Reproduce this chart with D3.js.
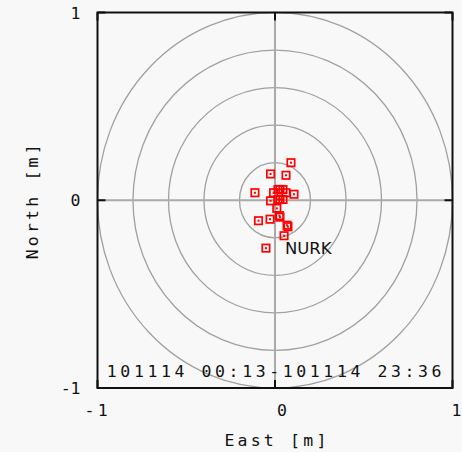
<!DOCTYPE html>
<html><head><meta charset="utf-8">
<script src="https://cdn.jsdelivr.net/npm/d3@7"></script>
<style>
html,body{margin:0;padding:0;background:#f8f8f8;}
svg{display:block;}
text{font-family:"DejaVu Sans Mono",monospace;fill:#111;}
</style></head><body>
<script>
// Data (metres)
const eastValues  = [0.090,-0.025,0.062,-0.113,-0.008,0.028,0.062,0.107,-0.025,0.028,0.017,0.045,0.017,0.045,0.010,0.028,-0.093,-0.028,0.025,0.073,0.068,0.051,-0.051];
const northValues = [0.200, 0.140,0.133, 0.040, 0.040,0.058,0.040,0.032,-0.003,0.005,0.057,0.057,0.004,0.004,-0.043,-0.090,-0.109,-0.101,-0.082,-0.141,-0.133,-0.189,-0.255];
const ringRadii = [0.2,0.4,0.6,0.8,1.0];
const tickValues = [-1,0,1];
const tickLabels = ["-1","0","1"];
const stationName = "NURK";
const periodLabel = "101114 00:13-101114 23:36";
const xTitle = "East [m]";
const yTitle = "North [m]";

const W=462,H=452;
const m={left:97.5,right:9.5,top:12.5,bottom:64};
const svg=d3.select("body").append("svg").attr("width",W).attr("height",H);
const x=d3.scaleLinear().domain([-1,1]).range([m.left,W-m.right]);
const y=d3.scaleLinear().domain([-1,1]).range([H-m.bottom,m.top]);

const g=svg.append("g");
// rings
g.selectAll("ellipse.ring").data(ringRadii).join("ellipse")
 .attr("cx",x(0)).attr("cy",y(0))
 .attr("rx",d=>x(d)-x(0)).attr("ry",d=>y(0)-y(d))
 .attr("fill","none").attr("stroke","#a0a0a0").attr("stroke-width",1.3);
// crosshair
g.append("line").attr("x1",x(-1)).attr("x2",x(1)).attr("y1",y(0)).attr("y2",y(0)).attr("stroke","#aaa").attr("stroke-width",2);
g.append("line").attr("x1",x(0)).attr("x2",x(0)).attr("y1",y(-1)).attr("y2",y(1)).attr("stroke","#aaa").attr("stroke-width",2);

// points
const pts=eastValues.map((e,i)=>({e,n:northValues[i]}));
const pg=g.selectAll("g.pt").data(pts).join("g").attr("transform",d=>`translate(${x(d.e)},${y(d.n)})`);
pg.append("rect").attr("x",-3.7).attr("y",-3.7).attr("width",7.4).attr("height",7.4).attr("fill","none").attr("stroke","#f00").attr("stroke-width",1.7);
pg.append("rect").attr("x",-1).attr("y",-1).attr("width",2).attr("height",2).attr("fill","#f00");

// station label
g.append("text").attr("x",x(eastValues[eastValues.length-1])+19).attr("y",y(northValues[northValues.length-1])+6)
 .style("font-family","'DejaVu Sans',sans-serif").attr("font-size",16.5).text(stationName);

// frame
g.append("rect").attr("x",x(-1)).attr("y",y(1)).attr("width",x(1)-x(-1)).attr("height",y(-1)-y(1))
 .attr("fill","none").attr("stroke","#111").attr("stroke-width",2);

// inner ticks
const tl=8;
tickValues.forEach(v=>{
  g.append("line").attr("x1",x(v)).attr("x2",x(v)).attr("y1",y(-1)).attr("y2",y(-1)-tl).attr("stroke","#111").attr("stroke-width",2);
  g.append("line").attr("x1",x(v)).attr("x2",x(v)).attr("y1",y(1)).attr("y2",y(1)+tl).attr("stroke","#111").attr("stroke-width",2);
  g.append("line").attr("y1",y(v)).attr("y2",y(v)).attr("x1",x(-1)).attr("x2",x(-1)+tl).attr("stroke","#111").attr("stroke-width",2);
  g.append("line").attr("y1",y(v)).attr("y2",y(v)).attr("x1",x(1)).attr("x2",x(1)-tl).attr("stroke","#111").attr("stroke-width",2);
});

const fs=16.5, ls=3.2;
// x tick labels
tickValues.forEach((v,i)=>{
  const lab=tickLabels[i];
  const t=g.append("text").attr("y",y(-1)+28).attr("font-size",fs).attr("letter-spacing",lab.length>1?ls:0).text(lab);
  if(lab.startsWith("-")) t.attr("x",x(v)-13).attr("text-anchor","start");
  else if(v===1) t.attr("x",W-0.5).attr("text-anchor","end");
  else t.attr("x",x(v)+2).attr("text-anchor","start");
});
// y tick labels
tickValues.forEach((v,i)=>{
  g.append("text").attr("x",x(-1)-17).attr("y",y(v)+6).attr("text-anchor","end")
   .attr("font-size",fs).attr("letter-spacing",0).attr("dx",0).text(tickLabels[i]);
});
// period label
g.append("text").attr("x",(x(-1)+x(1))/2+1).attr("y",y(-1)-11).attr("text-anchor","middle")
 .attr("font-size",fs).attr("letter-spacing",3.6).text(periodLabel);
// titles
g.append("text").attr("x",x(0)+2).attr("y",H-6).attr("text-anchor","middle")
 .attr("font-size",fs).attr("letter-spacing",ls).text(xTitle);
g.append("text").attr("transform",`translate(${38},${y(0)}) rotate(-90)`).attr("text-anchor","middle")
 .attr("font-size",fs).attr("letter-spacing",ls).text(yTitle);
</script>
</body></html>
